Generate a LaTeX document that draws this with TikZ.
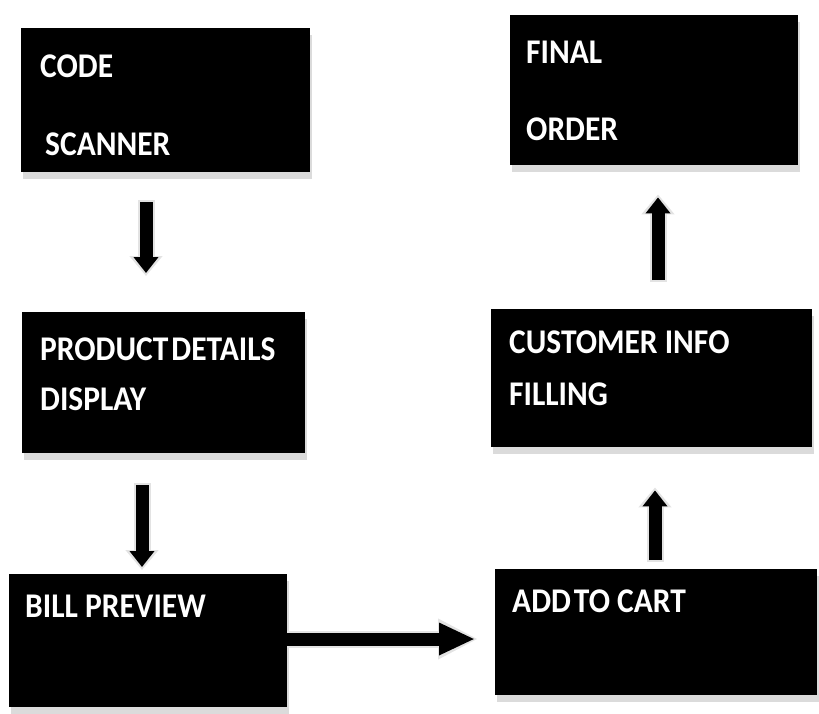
\documentclass[tikz,border=0pt]{standalone}
\usepackage{fontspec}
\usepackage{graphicx}
\setmainfont{Carlito}
\usetikzlibrary{arrows.meta,shadows}
% captions are set a little taller than the font's natural shape
\newcommand{\caps}[1]{\scalebox{1}[1.1]{#1}}
\begin{document}
\begin{tikzpicture}[x=1pt,y={(0,-1pt)},
  stage/.style={draw=none,fill=black,rectangle,inner sep=0pt,anchor=north west,
    drop shadow={shadow xshift=2pt,shadow yshift=-7pt,fill=gray!35,opacity=0.8}},
  label/.style={anchor=base west,inner sep=0pt,text=white,
    font=\fontsize{31.5}{34}\selectfont\bfseries},
  flow/.style={line width=13pt,black,
    -{Triangle[length=16pt,width=24pt]}},
  flowglow/.style={line width=17pt,gray!22,
    -{Triangle[length=20pt,width=32pt]}},
  wideflow/.style={line width=13pt,black,
    -{Triangle[length=36pt,width=30pt]}},
  wideglow/.style={line width=17pt,gray!22,
    -{Triangle[length=40pt,width=38pt]}},
]
\useasboundingbox (0,0) rectangle (819,713);

% process boxes: top-left corner and size in picture units
\node[stage,minimum width=289pt,minimum height=144pt] (scan) at (21,28) {};
\node[stage,minimum width=283pt,minimum height=141pt] (detail) at (22,312) {};
\node[stage,minimum width=278pt,minimum height=133pt] (bill) at (9,574) {};
\node[stage,minimum width=322pt,minimum height=126pt] (cart) at (495,569) {};
\node[stage,minimum width=321pt,minimum height=138pt] (info) at (491,309) {};
\node[stage,minimum width=288pt,minimum height=150pt] (final) at (510,15) {};

% box captions
\node[label] (t1) at (40,77) {\caps{CODE}};
\node[label] (t2) at (45,155) {\caps{SCANNER}};
\node[label] (t3) at (40,360) {\caps{PRODUCT\hspace{3pt}DETAILS}};
\node[label] (t4) at (40,410) {\caps{DISPLAY}};
\node[label] (t5) at (25,617) {\caps{BILL PREVIEW}};
\node[label] (t6) at (512,612) {\caps{ADD\hspace{3pt}TO CART}};
\node[label] (t7) at (509,353) {\caps{CUSTOMER INFO}};
\node[label] (t8) at (509,405) {\caps{FILLING}};
\node[label] (t9) at (526,63) {\caps{FINAL}};
\node[label] (t10) at (526,140) {\caps{ORDER}};

% connectors: pale halo first, black arrow on top
\draw[flowglow,shorten <=28pt,shorten >=36pt] ([xshift=125pt]scan.south west) -- ([xshift=124pt]detail.north west);
\draw[flow,shorten <=30pt,shorten >=39pt] ([xshift=125pt]scan.south west) -- ([xshift=124pt]detail.north west);

\draw[flowglow,shorten <=30pt,shorten >=4pt] ([xshift=120pt]detail.south west) -- ([xshift=133pt]bill.north west);
\draw[flow,shorten <=32pt,shorten >=7pt] ([xshift=120pt]detail.south west) -- ([xshift=133pt]bill.north west);

\draw[wideglow,shorten <=0pt,shorten >=17pt] ([yshift=-65pt]bill.north east) -- ([yshift=-70pt]cart.north west);
\draw[wideflow,shorten <=0pt,shorten >=20pt] ([yshift=-65pt]bill.north east) -- ([yshift=-70pt]cart.north west);

\draw[flowglow,shorten <=7pt,shorten >=40pt] ([xshift=160pt]cart.north west) -- ([xshift=164pt]info.south west);
\draw[flow,shorten <=9pt,shorten >=43pt] ([xshift=160pt]cart.north west) -- ([xshift=164pt]info.south west);

\draw[flowglow,shorten <=27pt,shorten >=29pt] ([xshift=167pt]info.north west) -- ([xshift=148pt]final.south west);
\draw[flow,shorten <=29pt,shorten >=32pt] ([xshift=167pt]info.north west) -- ([xshift=148pt]final.south west);
\end{tikzpicture}
\end{document}
